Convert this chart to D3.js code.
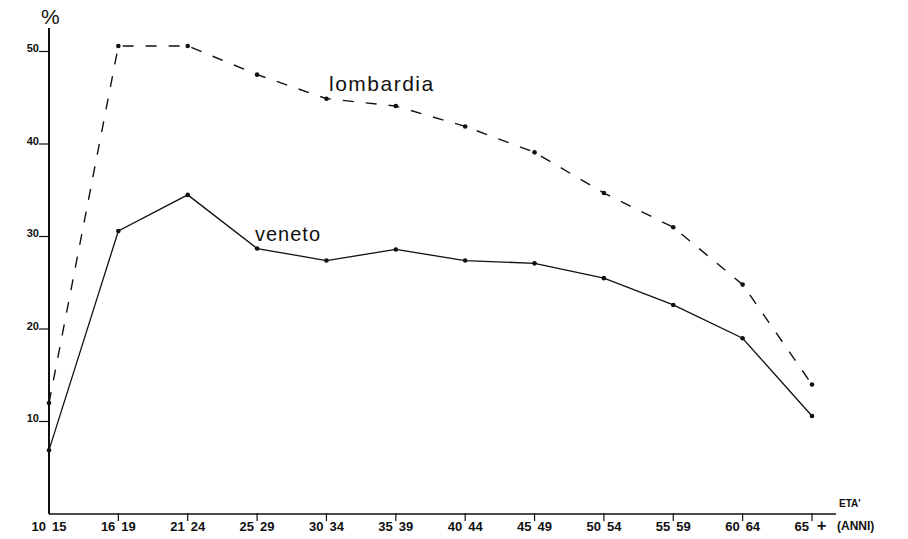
<!DOCTYPE html>
<html><head><meta charset="utf-8">
<script src="https://cdn.jsdelivr.net/npm/d3@7/dist/d3.min.js"></script>
<style>body{margin:0;background:#fff}svg{display:block}</style>
</head><body>
<svg id="c" width="908" height="539"></svg>
<script>
const categories = ["10 15","16 19","21 24","25 29","30 34","35 39","40 44","45 49","50 54","55 59","60 64","65 +"];
const lombardia = [12.0,50.6,50.6,47.5,44.9,44.1,41.9,39.1,34.7,31.0,24.8,14.0];
const veneto = [6.9,30.6,34.5,28.7,27.4,28.6,27.4,27.1,25.5,22.6,19.0,10.6];
const yTicks = [10,20,30,40,50];

const svg = d3.select("#c");
const font = "'Liberation Sans', Arial, sans-serif";
const x = d3.scalePoint().domain(categories).range([49, 812]);
const y = d3.scaleLinear().domain([0, 50]).range([514, 51.5]);

// axes lines
svg.append("line").attr("x1",49).attr("x2",49).attr("y1",28).attr("y2",y(0))
  .attr("stroke","#111").attr("stroke-width",2);
svg.append("line").attr("x1",49).attr("x2",836).attr("y1",y(0)).attr("y2",y(0))
  .attr("stroke","#111").attr("stroke-width",1.6);

// y ticks
const yg = svg.append("g");
yTicks.forEach(t => {
  yg.append("line").attr("x1",39).attr("x2",49).attr("y1",y(t)).attr("y2",y(t)).attr("stroke","#111").attr("stroke-width",1.2);
  yg.append("text").attr("x",39).attr("y",y(t)+0.5).attr("text-anchor","end")
    .attr("font-family",font).attr("font-weight","bold").attr("font-size",11).attr("fill","#111").text(t);
});

// x ticks
const xg = svg.append("g");
categories.forEach((c,i) => {
  const px = x(c);
  if (i>0) xg.append("line").attr("x1",px).attr("x2",px).attr("y1",y(0)-1).attr("y2",y(0)+7).attr("stroke","#111").attr("stroke-width",1.2);
  const parts = c.split(" ");
  xg.append("text").attr("x",px-3).attr("y",531).attr("text-anchor","end")
    .attr("font-family",font).attr("font-weight","bold").attr("font-size",13).attr("fill","#111").text(parts[0]);
  xg.append("text").attr("x",px+ (parts[1]==="+"?5:3)).attr("y",531).attr("text-anchor","start")
    .attr("font-family",font).attr("font-weight","bold").attr("font-size",parts[1]==="+"?16:13).attr("fill","#111").text(parts[1]);
});

svg.append("text").attr("x",41).attr("y",24).attr("font-family",font).attr("font-size",21).attr("fill","#111").text("%");
svg.append("text").attr("x",839).attr("y",507).attr("font-family",font).attr("font-weight","bold").attr("font-size",10).attr("fill","#111").text("ETA'");
svg.append("text").attr("x",837).attr("y",530).attr("font-family",font).attr("font-weight","bold").attr("font-size",12).attr("fill","#111").text("(ANNI)");

const line = d3.line().x((d,i)=>x(categories[i])).y(d=>y(d));

svg.append("path").datum(lombardia).attr("d",line).attr("fill","none")
  .attr("stroke","#111").attr("stroke-width",1.4).attr("stroke-dasharray","11,12");
svg.append("path").datum(veneto).attr("d",line).attr("fill","none")
  .attr("stroke","#111").attr("stroke-width",1.3);

[lombardia, veneto].forEach(s => {
  svg.append("g").selectAll("circle").data(s).join("circle")
    .attr("cx",(d,i)=>x(categories[i])).attr("cy",d=>y(d)).attr("r",2.3).attr("fill","#111");
});

svg.append("text").attr("x",329).attr("y",91).attr("font-family",font).attr("font-size",21).attr("letter-spacing",1.5).attr("fill","#111").text("lombardia");
svg.append("text").attr("x",255).attr("y",241).attr("font-family",font).attr("font-size",20).attr("letter-spacing",1).attr("fill","#111").text("veneto");
</script>
</body></html>
